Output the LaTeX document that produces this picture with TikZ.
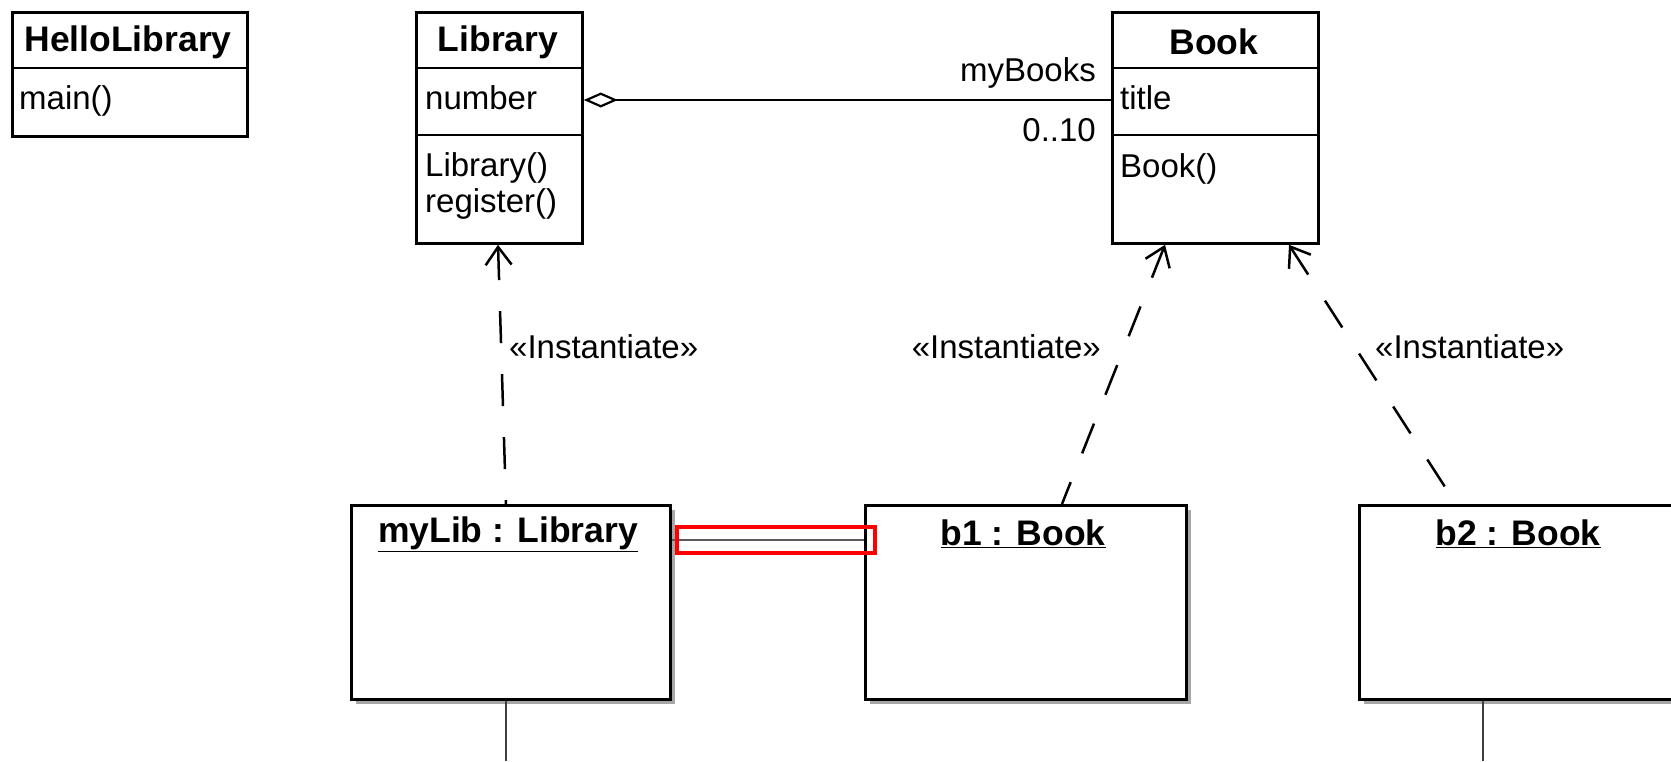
\documentclass[tikz,border=0pt]{standalone}
\usepackage{fontspec}
\setmainfont{Liberation Sans}
\usetikzlibrary{arrows.meta,shadows}
\begin{document}
\begin{tikzpicture}[x=1pt,y=-1pt,
  every node/.style={font=\fontsize{33}{38}\selectfont, inner sep=0pt},
  boldtxt/.style={font=\fontsize{35.5}{40}\selectfont\bfseries},
  cls/.style={draw, line width=2.8pt, anchor=north west, fill=white},
  obj/.style={draw, line width=2.8pt, anchor=north west, fill=white,
    drop shadow={shadow xshift=5pt, shadow yshift=-5pt, fill=black!35, opacity=1}},
  divider/.style={line width=2.8pt},
  inst/.style={line width=2.5pt, dash pattern=on 32pt off 31pt,
    {Straight Barb[length=18pt,width=26pt,line width=2.5pt]}-},
  agg/.style={line width=2.2pt, {Diamond[open,length=34pt,width=15pt,line width=2.2pt]}-},
  lifeline/.style={line width=2pt, black!75},
  linkline/.style={line width=2.8pt, black!65},
  highlight/.style={draw=red, line width=4pt, anchor=north west}
]
\useasboundingbox (0,0) rectangle (1671,761);
\fill[white] (0,0) rectangle (1671,761);
\clip (0,0) rectangle (1671,761);

% ---------- classes ----------
\node[cls, minimum width=235pt, minimum height=124pt] (hello) at (11,11) {};
\draw[divider] (hello.north west) ++(0,57) -- ++(235,0);
\node[boldtxt] (hellot) at (128,42) {HelloLibrary};
\node[anchor=west] (hellom) at (19,101) {main()};

\node[cls, minimum width=166pt, minimum height=231pt] (lib) at (415,11) {};
\draw[divider] (lib.north west) ++(0,57) -- ++(166,0);
\draw[divider] (lib.north west) ++(0,124) -- ++(166,0);
\node[boldtxt] (libt) at (498,42) {Library};
\node[anchor=west] (libnum) at (425,98) {number};
\node[anchor=west] (libc) at (425,168) {Library()};
\node[anchor=west] (libr) at (425,204) {register()};

\node[cls, minimum width=206pt, minimum height=231pt] (book) at (1111,11) {};
\draw[divider] (book.north west) ++(0,57) -- ++(206,0);
\draw[divider] (book.north west) ++(0,124) -- ++(206,0);
\node[boldtxt] (bookt) at (1214,42) {Book};
\node[anchor=west] (booktitle) at (1120,98) {title};
\node[anchor=west] (bookc) at (1120,169) {Book()};

% aggregation
\coordinate (aggy) at (0,100);
\draw[agg] (lib.east |- aggy) -- (book.west |- aggy);
\node[anchor=east] (mybooks) at (1096,73) {myBooks};
\node[anchor=east] (mult) at (1096,130) {0..10};

% ---------- objects ----------
\node[obj, minimum width=319pt, minimum height=194pt] (mylib) at (350,504) {};
\node[obj, minimum width=321pt, minimum height=194pt] (b1) at (864,504) {};
\node[obj, minimum width=330pt, minimum height=194pt] (b2) at (1358,504) {};

\node[boldtxt] (mylibt) at (508,534) {\underline{myLib : Library}};
\node[boldtxt] (b1t) at (1023,534) {\underline{b1 : Book}};
\node[boldtxt] (b2t) at (1518,534) {\underline{b2 : Book}};

% lifelines
\coordinate (ml1) at (506,761);
\draw[lifeline] (mylib.south -| ml1) -- (ml1);
\coordinate (b2l) at (1483,761);
\draw[lifeline] (b2.south -| b2l) -- (b2l);

% link
\coordinate (lk) at (0,540);
\draw[linkline] (mylib.east |- lk) -- (b1.west |- lk);
\node[highlight, minimum width=198pt, minimum height=26pt] (hl) at (675,525) {};

% instantiate dependencies (drawn from the class towards the instance)
\coordinate (s1) at (506,0);
\coordinate (e1) at (498,0);
\draw[inst] (lib.south -| e1) -- (mylib.north -| s1);
\coordinate (s2) at (1062,0);
\coordinate (e2) at (1165,0);
\draw[inst] (book.south -| e2) -- (b1.north -| s2);
\coordinate (s3) at (1456,0);
\coordinate (e3) at (1289,0);
\draw[inst] (book.south -| e3) -- (b2.north -| s3);

\node[anchor=west] (i1) at (509,347) {«Instantiate»};
\node[anchor=east] (i2) at (1101,347) {«Instantiate»};
\node[anchor=west] (i3) at (1375,347) {«Instantiate»};
\end{tikzpicture}
\end{document}
